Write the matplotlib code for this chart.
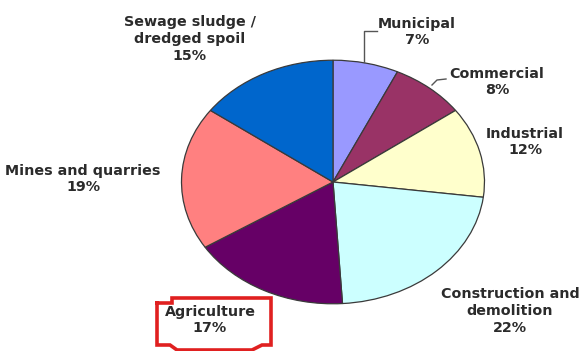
import numpy as np
import matplotlib
matplotlib.use("Agg")
import matplotlib.pyplot as plt

# waste sources, clockwise from 12 o'clock
labels = ["Municipal", "Commercial", "Industrial", "Construction and\ndemolition",
          "Agriculture", "Mines and quarries", "Sewage sludge /\ndredged spoil"]
shares = [7, 8, 12, 22, 17, 19, 15]
colors = ["#9999FF", "#993366", "#FFFFCC", "#CCFFFF", "#660066", "#FF8080", "#0066CC"]

W, H = 584, 351
fig = plt.figure(figsize=(W / 100, H / 100), dpi=100)
fig.patch.set_facecolor("white")

# pie axes, stretched into an ellipse like the original
cx, cy, rx, ry = 333, 182, 153, 123
ax = fig.add_axes([(cx - rx) / W, 1 - (cy + ry) / H, 2 * rx / W, 2 * ry / H])
ax.pie(shares, colors=colors, startangle=90, counterclock=False, radius=1,
       wedgeprops=dict(edgecolor="#3a3a3a", linewidth=0.9))
ax.set_aspect("auto")
ax.set_xlim(-1.01, 1.01)
ax.set_ylim(-1.01, 1.01)
ax.axis("off")

# overlay in pixel coordinates for labels and annotations
ov = fig.add_axes([0, 0, 1, 1])
ov.set_xlim(0, W)
ov.set_ylim(H, 0)
ov.axis("off")
ov.patch.set_alpha(0)

label_pos = [(417, 32), (497, 82), (525, 142), (510, 311),
             (210, 320), (83, 179), (190, 39)]
font = dict(family="DejaVu Sans", fontweight="bold", fontsize=10.3,
            color="#2b2b2b", ha="center", va="center", linespacing=1.25)
for lab, s, (x, y) in zip(labels, shares, label_pos):
    ov.text(x, y, f"{lab}\n{s}%", **font)

# leader lines
ov.plot([364, 364, 377], [62, 31, 31], color="#555555", lw=1)
ov.plot([432, 437, 446], [85, 80, 79], color="#555555", lw=1)

# red highlight box round Agriculture
box = [(157, 303), (172, 303), (172, 298), (271, 298), (271, 345), (262, 345),
       (252, 350), (177, 350), (170, 345), (157, 345), (157, 303)]
bx, by = zip(*box)
ov.plot(bx, by, color="#E02020", lw=2.6, solid_joinstyle="miter")

fig.savefig("out.png", dpi=100)
